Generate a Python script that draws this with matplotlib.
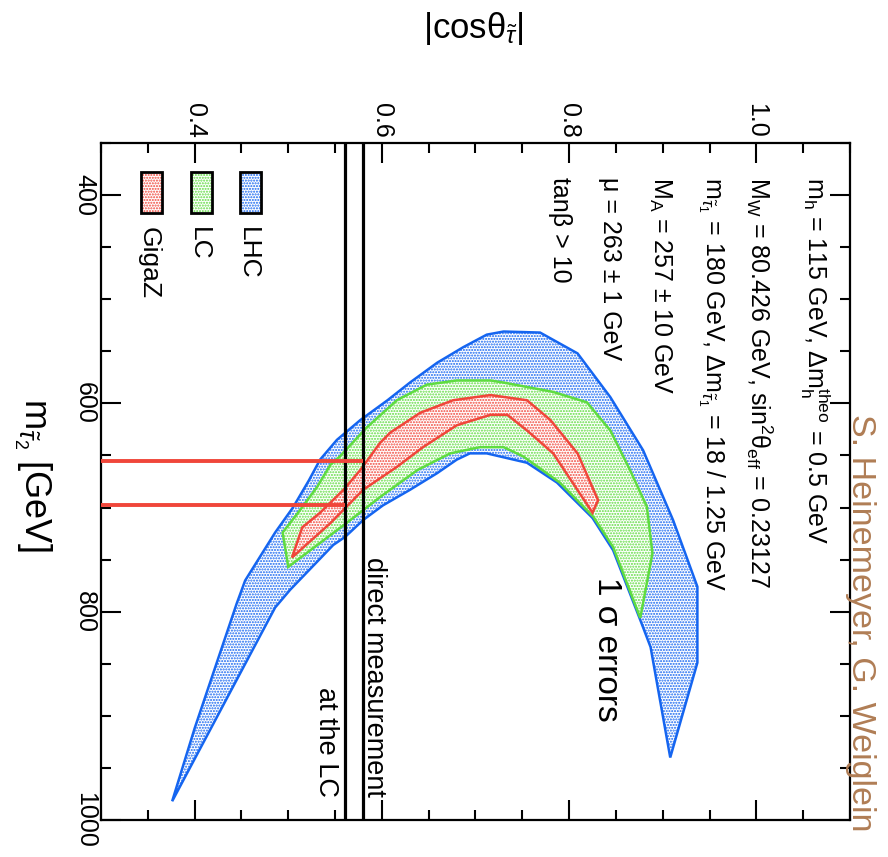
import matplotlib
matplotlib.use("Agg")
import matplotlib.pyplot as plt
from matplotlib.patches import Polygon, Rectangle

plt.rcParams['font.family'] = ['Liberation Sans', 'DejaVu Sans']
plt.rcParams['mathtext.fontset'] = 'custom'
plt.rcParams['mathtext.rm'] = 'Liberation Sans'
plt.rcParams['mathtext.it'] = 'Liberation Sans:italic'
plt.rcParams['mathtext.bf'] = 'Liberation Sans:bold'
plt.rcParams['hatch.linewidth'] = 1.0

# ---------------- data ----------------
# LHC 1-sigma region (|cos theta_stau|, m_stau2 [GeV])
lhc_cos = [0.376, 0.400, 0.445, 0.454, 0.486, 0.505, 0.522, 0.534, 0.552, 0.577,
           0.606, 0.630, 0.659, 0.687, 0.712, 0.730, 0.769, 0.809, 0.844, 0.879,
           0.911, 0.937, 0.937, 0.908, 0.887, 0.876, 0.847, 0.825, 0.787, 0.755,
           0.712, 0.694, 0.680, 0.659, 0.630, 0.601, 0.580, 0.561, 0.548, 0.502, 0.486]
lhc_m = [982, 912, 792, 770, 724, 700, 674, 654, 635, 616,
         597, 580, 561, 546, 534, 531, 532, 552, 594, 645,
         712, 776, 849, 940, 834, 808, 741, 710, 676, 657,
         648, 648, 654, 667, 683, 698, 712, 728, 736, 779, 796]

# LC 1-sigma region
lc_cos = [0.500, 0.494, 0.513, 0.531, 0.545, 0.555, 0.584, 0.616, 0.648, 0.680,
          0.716, 0.730, 0.783, 0.819, 0.844, 0.865, 0.883, 0.889, 0.876, 0.847,
          0.826, 0.790, 0.751, 0.730, 0.705, 0.673, 0.638, 0.598, 0.562]
lc_m = [757, 724, 702, 680, 659, 651, 623, 597, 582, 578,
        578, 580, 589, 599, 626, 664, 699, 744, 806, 738,
        709, 676, 651, 642, 642, 648, 664, 690, 715]

# GigaZ 1-sigma region
gz_cos = [0.504, 0.515, 0.534, 0.559, 0.577, 0.598, 0.609, 0.641, 0.676, 0.716,
          0.755, 0.780, 0.809, 0.831, 0.825, 0.783, 0.755, 0.734, 0.716, 0.680,
          0.644, 0.616, 0.580, 0.545]
gz_m = [748, 719, 705, 683, 664, 638, 628, 609, 597, 592,
        597, 616, 648, 693, 705, 648, 626, 611, 611, 621,
        642, 661, 683, 715]

# direct measurement of |cos theta| at the LC (two lines)
direct_cos = [0.5607, 0.5802]
# resulting m_stau2 band (red lines)
mstau_band = [655, 697.5]

xticks_major = [0.4, 0.6, 0.8, 1.0]
xtick_labels = ['0.4', '0.6', '0.8', '1.0']
yticks_major = [400, 600, 800, 1000]
ytick_labels = ['400', '600', '800', '1000']

legend_names = ['LHC', 'LC', 'GigaZ']

BLUE = '#1565f0'
GREEN = '#5fdc40'
RED = '#f0463a'
colors = [BLUE, GREEN, RED]

W, H = 888, 857
fig = plt.figure(figsize=(W / 100, H / 100), dpi=100)
ax = fig.add_axes([101 / W, 1 - 820 / H, 749 / W, 677 / H])
ax.set_xlim(0.3, 1.1)
ax.set_ylim(1000, 350)


def P(x, y):
    return (x / W, 1 - y / H)


for xs, ys, c in [(lhc_cos, lhc_m, BLUE), (lc_cos, lc_m, GREEN), (gz_cos, gz_m, RED)]:
    poly = Polygon(list(zip(xs, ys)), closed=True, facecolor='white',
                   edgecolor=c, hatch='......', linewidth=1.8, zorder=2)
    ax.add_patch(poly)

# vertical lines
for xv in direct_cos:
    ax.axvline(xv, color='black', lw=2.3, zorder=4)

# red horizontal lines
ax.plot([0.3, direct_cos[1]], [mstau_band[0]] * 2, color=RED, lw=2.8, zorder=5,
        solid_capstyle='butt')
ax.plot([0.3, direct_cos[0]], [mstau_band[1]] * 2, color=RED, lw=2.8, zorder=5,
        solid_capstyle='butt')

# ticks
ax.set_xticks(xticks_major)
ax.set_xticklabels(xtick_labels)
ax.set_xticks([0.3 + 0.05 * i for i in range(17)], minor=True)
ax.set_yticks(yticks_major)
ax.set_yticklabels(ytick_labels)
ax.set_yticks([350 + 50 * i for i in range(14)], minor=True)
ax.xaxis.tick_top()
ax.tick_params(axis='x', which='both', top=True, bottom=True, labeltop=True,
               labelbottom=False, direction='in')
ax.tick_params(axis='y', which='both', left=True, right=True, labelleft=True,
               labelright=False, direction='in')
ax.tick_params(which='major', length=14.5, width=1.5, labelsize=18)
ax.tick_params(which='minor', length=7.5, width=1.5)
ax.tick_params(axis='x', which='major', pad=4)
ax.tick_params(axis='y', which='major', pad=3)
for lab in ax.get_xticklabels():
    lab.set_rotation(270)
    lab.set_ha('center')
    lab.set_va('bottom')
for lab in ax.get_yticklabels():
    lab.set_rotation(270)
    lab.set_ha('right')
    lab.set_va('center')
for sp in ax.spines.values():
    sp.set_linewidth(1.6)

# axis labels
fig.text(*P(473, 38), r'|cosθ$_{\tilde{\tau}}$|', ha='center', va='baseline', fontsize=25)
fig.text(*P(24, 398), r'm$_{\tilde{\tau}_2}$ [GeV]', rotation=270, rotation_mode='anchor',
         ha='left', va='baseline', fontsize=26)

# parameter text
params = [
    (807, r'm$_\mathregular{h}$ = 115 GeV, Δm$_\mathregular{h}^\mathregular{theo}$ = 0.5 GeV'),
    (750, r'M$_\mathregular{W}$ = 80.426 GeV, sin$^\mathregular{2}$θ$_\mathregular{eff}$ = 0.23127'),
    (705, r'm$_{\tilde{\tau}_1}$ = 180 GeV, Δm$_{\tilde{\tau}_1}$ = 18 / 1.25 GeV'),
    (653, r'M$_\mathregular{A}$ = 257 ± 10 GeV'),
    (603, 'μ = 263 ± 1 GeV'),
    (553, 'tanβ > 10'),
]
for xb, s in params:
    fig.text(*P(xb, 177), s, rotation=270, rotation_mode='anchor', ha='left',
             va='baseline', fontsize=18)

fig.text(*P(598, 577), '1 σ errors', rotation=270, rotation_mode='anchor',
         ha='left', va='baseline', fontsize=24)
fig.text(*P(367, 797), 'direct measurement', rotation=270, rotation_mode='anchor',
         ha='right', va='baseline', fontsize=19.5)
fig.text(*P(319, 797), 'at the LC', rotation=270, rotation_mode='anchor',
         ha='right', va='baseline', fontsize=19.5)
fig.text(*P(852, 832), 'S. Heinemeyer, G. Weiglein', rotation=270, rotation_mode='anchor',
         ha='right', va='baseline', fontsize=24.5, color='#b07d55')

# legend
box_x = [240, 191, 141]
for bx, name, c in zip(box_x, legend_names, colors):
    r = Rectangle(P(bx, 213), 21 / W, 41 / H, transform=fig.transFigure,
                  facecolor='white', edgecolor=c, hatch='......', lw=0)
    fig.patches.append(r)
    r2 = Rectangle(P(bx, 213), 21 / W, 41 / H, transform=fig.transFigure,
                   facecolor='none', edgecolor='black', lw=2)
    fig.patches.append(r2)
    fig.text(*P(bx + 1, 227), name, rotation=270, rotation_mode='anchor', ha='left',
             va='baseline', fontsize=19)

fig.savefig('out.png', dpi=100)
